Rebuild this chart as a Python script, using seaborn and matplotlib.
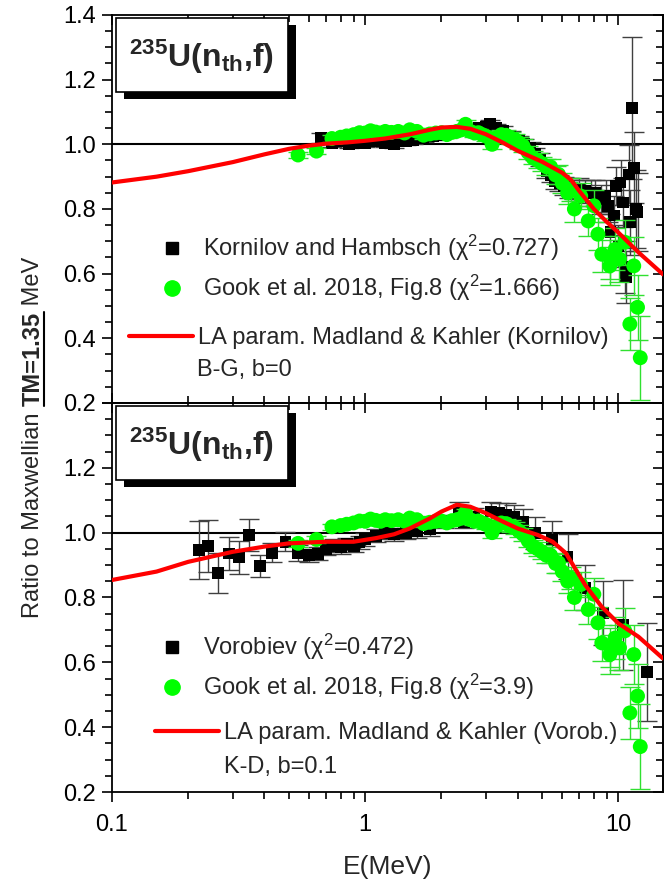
import numpy as np
import matplotlib
matplotlib.use("Agg")
import matplotlib.pyplot as plt
import seaborn as sns
from matplotlib.lines import Line2D
from matplotlib.patches import Rectangle
from matplotlib.ticker import MultipleLocator, LogLocator, NullFormatter

# ---------------------------------------------------------
# Data (ratio to Maxwellian, TM=1.35 MeV)
# ---------------------------------------------------------
# Gook et al. 2018, Fig.8 (same points in both panels)
gook_e = [0.543, 0.642, 0.739, 0.80, 0.845, 0.90, 0.95, 1.0, 1.05, 1.1, 1.15, 1.2,
          1.27, 1.35, 1.43, 1.5, 1.6, 1.7, 1.8, 1.9, 2.0, 2.1, 2.2, 2.3, 2.4, 2.49,
          2.6, 2.7, 2.8, 2.9, 3.0, 3.17, 3.3, 3.45, 3.6, 3.75, 3.9, 4.05, 4.2, 4.4,
          4.6, 4.8, 5.0, 5.2, 5.4, 5.65, 5.8, 6.0, 6.3, 6.5, 6.7, 7.1, 7.6, 8.0,
          8.3, 8.6, 9.25, 9.3, 9.7, 10.1, 10.6, 11.1, 11.5, 11.9, 12.2]
gook_r = [0.967, 0.979, 1.018, 1.022, 1.026, 1.030, 1.036, 1.035, 1.042, 1.038, 1.035, 1.040,
          1.037, 1.040, 1.035, 1.045, 1.040, 1.028, 1.032, 1.035, 1.036, 1.030, 1.037, 1.040, 1.045, 1.062,
          1.040, 1.035, 1.036, 1.030, 1.025, 1.000, 1.020, 1.030, 1.028, 1.020, 1.015, 1.005, 0.995, 0.975,
          0.958, 0.950, 0.940, 0.930, 0.930, 0.905, 0.907, 0.880, 0.850, 0.860, 0.800, 0.840, 0.763, 0.810,
          0.722, 0.660, 0.624, 0.645, 0.675, 0.645, 0.697, 0.444, 0.624, 0.496, 0.340]
gook_err = [0.010, 0.010, 0.010, 0.010, 0.010, 0.010, 0.010, 0.010, 0.010, 0.010, 0.010, 0.010,
            0.010, 0.010, 0.010, 0.010, 0.010, 0.010, 0.010, 0.010, 0.010, 0.010, 0.010, 0.010, 0.012, 0.012,
            0.012, 0.012, 0.012, 0.012, 0.015, 0.015, 0.015, 0.015, 0.015, 0.018, 0.018, 0.018, 0.020, 0.020,
            0.020, 0.022, 0.022, 0.025, 0.025, 0.028, 0.030, 0.030, 0.035, 0.035, 0.040, 0.040, 0.045, 0.050,
            0.050, 0.055, 0.060, 0.060, 0.065, 0.070, 0.070, 0.080, 0.090, 0.100, 0.130]

# Kornilov and Hambsch (top panel)
korn_e = [0.67, 0.74, 0.80, 0.86, 0.92, 1.0, 1.1, 1.2, 1.3, 1.36, 1.45, 1.55, 1.7, 1.85,
          2.0, 2.2, 2.4, 2.6, 2.8, 3.0, 3.1, 3.3, 3.5, 3.75, 4.04, 4.25, 4.5, 4.7, 4.9,
          5.2, 5.4, 5.6, 5.85, 6.1, 6.4, 6.7, 7.0, 7.4, 7.8, 8.1, 8.5, 8.9, 9.1, 9.3,
          9.6, 9.8, 10.0, 10.2, 10.4, 10.6, 10.7, 11.0, 11.1, 11.28, 11.5, 11.7, 11.9]
korn_r = [1.020, 1.005, 1.010, 1.000, 1.005, 1.005, 1.010, 1.005, 1.000, 1.015, 1.010, 1.012, 1.020, 1.025,
          1.030, 1.040, 1.045, 1.045, 1.050, 1.055, 1.062, 1.050, 1.041, 1.025, 1.010, 1.000, 0.990, 0.970, 0.954,
          0.918, 0.905, 0.887, 0.880, 0.870, 0.865, 0.860, 0.860, 0.855, 0.850, 0.850, 0.830, 0.840, 0.810, 0.728,
          0.780, 0.871, 0.686, 0.882, 0.820, 0.620, 0.589, 0.907, 0.759, 1.113, 0.928, 0.800, 0.790]
korn_err = [0.015, 0.012, 0.012, 0.012, 0.012, 0.012, 0.012, 0.012, 0.012, 0.012, 0.012, 0.012, 0.012, 0.012,
            0.012, 0.012, 0.012, 0.012, 0.012, 0.012, 0.014, 0.014, 0.015, 0.015, 0.016, 0.018, 0.018, 0.020, 0.020,
            0.022, 0.022, 0.025, 0.025, 0.028, 0.030, 0.030, 0.035, 0.035, 0.040, 0.040, 0.045, 0.050, 0.050, 0.055,
            0.060, 0.060, 0.065, 0.070, 0.075, 0.080, 0.080, 0.090, 0.100, 0.220, 0.110, 0.120, 0.120]

# Vorobiev (bottom panel)
vor_e = [0.22, 0.24, 0.262, 0.289, 0.317, 0.347, 0.384, 0.43, 0.484, 0.543, 0.60, 0.65,
         0.70, 0.75, 0.80, 0.85, 0.90, 0.95, 1.0, 1.1, 1.2, 1.3, 1.45, 1.6, 1.8, 2.05,
         2.35, 2.45, 2.7, 3.14, 3.38, 3.6, 3.86, 4.2, 4.7, 5.45, 6.3, 7.4, 8.7, 10.4, 13.0]
vor_r = [0.947, 0.959, 0.876, 0.936, 0.924, 0.993, 0.897, 0.938, 0.972, 0.937, 0.930, 0.935,
         0.950, 0.960, 0.955, 0.965, 0.960, 0.970, 0.980, 0.990, 1.000, 0.995, 1.000, 1.005, 1.010, 1.035,
         1.070, 1.034, 1.050, 1.065, 1.061, 1.055, 1.050, 1.034, 0.999, 0.977, 0.926, 0.830, 0.752, 0.715, 0.570]
vor_err = [0.090, 0.080, 0.062, 0.050, 0.050, 0.050, 0.035, 0.030, 0.030, 0.025, 0.020, 0.020,
           0.020, 0.020, 0.020, 0.020, 0.020, 0.020, 0.020, 0.020, 0.020, 0.020, 0.020, 0.020, 0.020, 0.020,
           0.025, 0.020, 0.025, 0.030, 0.030, 0.035, 0.035, 0.040, 0.050, 0.060, 0.070, 0.070, 0.100, 0.140, 0.150]

# LA parametrisation, Madland & Kahler
la_korn_e = [0.1, 0.15, 0.2, 0.3, 0.4, 0.5, 0.6, 0.7, 0.85, 1.0, 1.2, 1.5, 1.8, 2.0,
             2.3, 2.6, 3.0, 3.5, 4.0, 5.0, 6.0, 6.5, 7.0, 8.0, 9.0, 10.0, 12.0, 15.0]
la_korn_r = [0.882, 0.900, 0.917, 0.945, 0.969, 0.986, 0.996, 1.002, 1.006, 1.011, 1.018, 1.031, 1.045, 1.052,
             1.054, 1.048, 1.031, 1.005, 0.980, 0.946, 0.912, 0.890, 0.856, 0.800, 0.760, 0.727, 0.666, 0.598]

la_vor_e = [0.1, 0.15, 0.2, 0.3, 0.4, 0.5, 0.7, 0.9, 1.1, 1.3, 1.5, 1.8, 2.0, 2.3,
            2.6, 3.0, 3.5, 4.0, 4.8, 5.5, 6.2, 6.8, 7.4, 8.6, 10.0, 12.0, 15.0]
la_vor_r = [0.854, 0.880, 0.910, 0.941, 0.957, 0.967, 0.972, 0.972, 0.983, 0.995, 1.013, 1.044, 1.065, 1.086,
            1.080, 1.060, 1.034, 1.013, 0.993, 0.972, 0.937, 0.885, 0.838, 0.771, 0.720, 0.679, 0.612]

y_ticks = [0.2, 0.4, 0.6, 0.8, 1.0, 1.2, 1.4]
x_ticks = [0.1, 1, 10]
x_tick_labels = ["0.1", "1", "10"]

GREEN = "#00ff00"
GREEN_ERR = "#30e030"
FS = 17
FS_PX = FS * 100 / 72


def style_axes(ax, is_bottom):
    ax.set_xscale("log")
    ax.set_xlim(0.1, 15)
    ax.set_ylim(0.2, 1.4)
    ax.set_xticks(x_ticks, labels=x_tick_labels if is_bottom else ["", "", ""])
    ax.xaxis.set_minor_locator(LogLocator(base=10, subs=np.arange(2, 10)))
    ax.xaxis.set_minor_formatter(NullFormatter())
    ylabels = [f"{v:.1f}" for v in y_ticks]
    if is_bottom:
        ylabels[-1] = ""
    ax.set_yticks(y_ticks, labels=ylabels)
    ax.yaxis.set_minor_locator(MultipleLocator(0.05))
    for s in ax.spines.values():
        s.set_linewidth(1.3)
        s.set_visible(True)
    ax.tick_params(axis="both", which="major", length=7.5, width=1.2, labelsize=FS, pad=4)
    ax.tick_params(axis="both", which="minor", length=5, width=1.2)
    ax.tick_params(axis="y", which="both", direction="out", left=True, right=False)
    if is_bottom:
        ax.tick_params(axis="x", which="both", direction="out", bottom=True, top=False)
        ax.tick_params(axis="x", which="major", pad=8)
        top = ax.secondary_xaxis("top")
        top.set_xticks(x_ticks, labels=["", "", ""])
        top.xaxis.set_minor_locator(LogLocator(base=10, subs=np.arange(2, 10)))
        top.xaxis.set_minor_formatter(NullFormatter())
        top.tick_params(which="major", direction="in", length=7.5, width=1.2)
        top.tick_params(which="minor", direction="in", length=5, width=1.2)
    else:
        ax.tick_params(axis="x", which="both", direction="in", bottom=True, top=True,
                       labelbottom=False)
    right = ax.secondary_yaxis("right")
    right.set_yticks(y_ticks, labels=[""] * len(y_ticks))
    right.yaxis.set_minor_locator(MultipleLocator(0.05))
    right.tick_params(which="major", direction="in", length=7.5, width=1.2)
    right.tick_params(which="minor", direction="in", length=5, width=1.2)


def title_box(ax):
    x0, y0, w, h = 0.007, 0.802, 0.312, 0.19
    ax.add_patch(Rectangle((x0 + 0.015, y0 - 0.019), w, h, transform=ax.transAxes,
                           facecolor="black", edgecolor="none", zorder=8, clip_on=False))
    ax.add_patch(Rectangle((x0, y0), w, h, transform=ax.transAxes,
                           facecolor="white", edgecolor="black", lw=1.2, zorder=9, clip_on=False))
    ax.text(x0 + w / 2, y0 + h / 2 - 0.005, r"$\mathbf{^{235}U(n_{th}{,}f)}$", transform=ax.transAxes,
            ha="center", va="center", fontsize=23, zorder=10)


def draw_panel(ax, exp_e, exp_r, exp_err, la_e, la_r):
    ax.axhline(1.0, color="black", lw=1.5, zorder=1)
    ax.errorbar(exp_e, exp_r, yerr=exp_err, fmt="none", ecolor="0.25", elinewidth=1,
                capsize=7, capthick=1, zorder=2)
    sns.scatterplot(x=exp_e, y=exp_r, ax=ax, marker="s", s=72, color="black",
                    edgecolor="none", zorder=3, legend=False)
    ax.errorbar(gook_e, gook_r, yerr=gook_err, fmt="none", ecolor=GREEN_ERR, elinewidth=1,
                capsize=7, capthick=1, zorder=4)
    sns.scatterplot(x=gook_e, y=gook_r, ax=ax, marker="o", s=115, color=GREEN,
                    edgecolor="none", zorder=5, legend=False)
    sns.lineplot(x=la_e, y=la_r, ax=ax, color="red", lw=3, zorder=6, sort=False,
                 estimator=None, legend=False)


def add_legends(ax, exp_label, gook_label, la_label, extra, marker_y, line_x, line_y, extra_x, extra_y):
    sq = Line2D([], [], marker="s", color="black", ls="none", markersize=9)
    ci = Line2D([], [], marker="o", color=GREEN, ls="none", markersize=11)
    leg1 = ax.legend([sq, ci], [exp_label, gook_label], loc="center left",
                     bbox_to_anchor=(0.0874, marker_y), frameon=False, fontsize=FS,
                     handlelength=1.0, handletextpad=0.81, labelspacing=0.42,
                     borderpad=0, borderaxespad=0)
    ax.add_artist(leg1)
    ln = Line2D([], [], color="red", lw=3)
    ax.legend([ln], [la_label], loc="center left", bbox_to_anchor=(line_x, line_y),
              frameon=False, fontsize=FS, handlelength=64 / FS_PX, handletextpad=0.21,
              borderpad=0, borderaxespad=0)
    ax.text(extra_x, extra_y, extra, transform=ax.transAxes, ha="left", va="center", fontsize=FS)


def run():
    sns.set_theme(style="ticks")
    plt.rcParams["font.family"] = ["Liberation Sans", "DejaVu Sans"]
    plt.rcParams["mathtext.fontset"] = "custom"
    plt.rcParams["mathtext.rm"] = "Liberation Sans"
    plt.rcParams["mathtext.it"] = "Liberation Sans:italic"
    plt.rcParams["mathtext.bf"] = "Liberation Sans:bold"
    plt.rcParams["axes.edgecolor"] = "black"
    plt.rcParams["xtick.color"] = "black"
    plt.rcParams["ytick.color"] = "black"

    fig = plt.figure(figsize=(6.64, 8.8), dpi=100)
    ax_top = fig.add_axes([0.16867, 0.54205, 0.8298, 0.44091])
    ax_bot = fig.add_axes([0.16867, 0.1, 0.8298, 0.44205])

    # top panel
    draw_panel(ax_top, korn_e, korn_r, korn_err, la_korn_e, la_korn_r)
    style_axes(ax_top, False)
    title_box(ax_top)
    add_legends(ax_top, "Kornilov and Hambsch (χ$^2$=0.727)",
                "Gook et al. 2018, Fig.8 (χ$^2$=1.666)",
                "LA param. Madland & Kahler (Kornilov)", "B-G, b=0",
                0.348, 0.031, 0.1675, 0.155, 0.085)

    # bottom panel
    draw_panel(ax_bot, vor_e, vor_r, vor_err, la_vor_e, la_vor_r)
    style_axes(ax_bot, True)
    title_box(ax_bot)
    add_legends(ax_bot, "Vorobiev (χ$^2$=0.472)",
                "Gook et al. 2018, Fig.8 (χ$^2$=3.9)",
                "LA param. Madland & Kahler (Vorob.)", "K-D, b=0.1",
                0.321, 0.078, 0.152, 0.203, 0.064)

    ax_bot.set_xlabel("E(MeV)", fontsize=19, labelpad=14)
    ax_top.set_ylabel("")
    ax_bot.set_ylabel("")

    # y label with the bold underlined part, built from three pieces
    renderer = fig.canvas.get_renderer()
    xl = 33 / 664
    y = 1 - 618 / 880
    pieces = [("Ratio to Maxwellian ", "normal"), ("TM=1.35", "bold"), (" MeV", "normal")]
    for txt, weight in pieces:
        t = fig.text(xl, y, txt, rotation=90, ha="center", va="bottom", fontsize=17,
                     fontweight=weight)
        bb = t.get_window_extent(renderer).transformed(fig.transFigure.inverted())
        if weight == "bold":
            fig.add_artist(Line2D([bb.x1 - 0.001, bb.x1 - 0.001], [bb.y0, bb.y1],
                                  transform=fig.transFigure, color="black", lw=1.5))
        y = bb.y1

    fig.savefig("out.png", dpi=100)


if __name__ == "__main__":
    run()
